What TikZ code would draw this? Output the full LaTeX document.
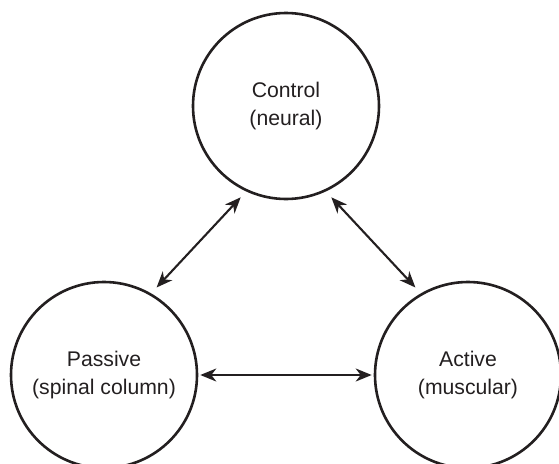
\documentclass[tikz,border=0pt]{standalone}
\usepackage{fontspec}
\setmainfont{Liberation Sans}
\usetikzlibrary{arrows.meta}
\definecolor{ink}{HTML}{231F20}
\tikzset{
  unit/.style={circle, draw=ink, line width=2.6pt, minimum size=186pt, inner sep=0pt,
    align=center, text=ink, font=\fontsize{21.2}{28}\selectfont},
  arr/.style={draw=ink, line width=2.1pt, {Stealth[length=16pt,width=13pt,inset=5pt]}-{Stealth[length=16pt,width=13pt,inset=5pt]}}
}
\begin{document}
\begin{tikzpicture}[x=1pt,y=-1pt]
\useasboundingbox (0,0) rectangle (559,463);
\clip (0,0) rectangle (559,463);
\node[unit] (ctrl) at (286,106) {Control\\(neural)};
\node[unit] (pass) at (104,375) {Passive\\(spinal column)};
\node[unit] (act) at (468,375) {Active\\(muscular)};
\draw[arr, shorten <=8pt, shorten >=8pt] (ctrl.245) -- (pass.60);
\draw[arr, shorten <=8pt, shorten >=8pt] (ctrl.295) -- (act.120);
\draw[arr, shorten <=2pt, shorten >=2pt] (pass.east) -- (act.west);
\end{tikzpicture}
\end{document}
